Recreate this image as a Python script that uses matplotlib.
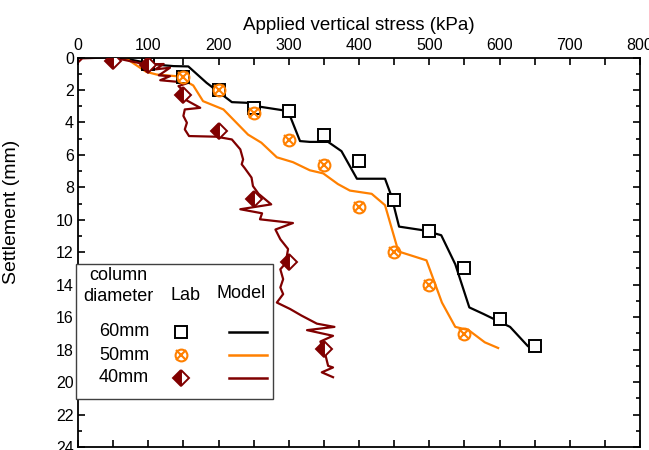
import numpy as np
import matplotlib
matplotlib.use("Agg")
import matplotlib.pyplot as plt
from matplotlib.patches import Rectangle
from matplotlib.ticker import MultipleLocator

plt.rcParams["font.family"] = ["Liberation Sans", "DejaVu Sans"]

BLACK, ORANGE, DRED = "#000000", "#ff8000", "#800000"

# lab points (stress kPa, settlement mm)
lab60_x = [100, 150, 200, 250, 300, 350, 400, 450, 500, 550, 600, 650]
lab60_y = [0.4, 1.2, 2.0, 3.1, 3.3, 4.8, 6.4, 8.8, 10.7, 13.0, 16.1, 17.8]
lab50_x = [150, 200, 250, 300, 350, 400, 450, 500, 550]
lab50_y = [1.2, 2.0, 3.45, 5.1, 6.6, 9.2, 12.0, 14.0, 17.05]
lab40_x = [50, 100, 150, 200, 250, 300, 350]
lab40_y = [0.2, 0.45, 2.3, 4.55, 8.7, 12.6, 17.95]

# model curves
mod60_x = [60, 100, 122, 136, 157, 183, 219, 240, 254, 299, 316, 330, 356, 375,
           397, 437, 446, 457, 492, 517, 537, 557, 577, 596, 615, 640]
mod60_y = [0, 0.35, 0.48, 0.53, 0.55, 1.56, 2.75, 2.79, 3.0, 3.3, 5.15, 5.2, 5.2,
           5.77, 7.47, 7.47, 8.53, 10.42, 10.65, 10.95, 12.74, 15.4, 15.8, 16.2,
           16.6, 17.77]
mod50_x = [48, 70, 97, 112, 140, 164, 178, 207, 242, 261, 283, 306, 330, 349, 370,
           387, 418, 437, 456, 496, 518, 537, 556, 579, 598]
mod50_y = [0, 0.1, 0.88, 1.05, 1.15, 1.72, 2.69, 3.2, 4.75, 5.25, 6.15, 6.45, 6.95,
           7.14, 7.8, 8.2, 8.4, 9.1, 11.95, 12.5, 15.1, 16.6, 16.8, 17.55, 17.9]
mod40_x = [0, 6, 41, 55, 97, 122, 110, 131, 115, 131, 117, 157, 143, 150, 148, 155,
           174, 152, 150, 155, 152, 158, 197, 219, 231, 235, 233, 237, 242, 247,
           249, 257, 275, 231, 262, 259, 306, 281, 288, 299, 297, 297, 288, 292,
           288, 292, 283, 302, 318, 340, 365, 326, 363, 345, 352, 356, 363, 347,
           363]
mod40_y = [0.3, 0.05, 0, 0.05, 0.43, 0.4, 0.73, 0.63, 1.1, 1.15, 1.4, 1.56, 1.76,
           2.07, 2.3, 2.65, 3.1, 3.2, 3.6, 4.02, 4.43, 4.84, 4.88, 5.05, 5.66, 6.28,
           6.58, 6.8, 7.1, 7.4, 7.92, 8.4, 9.05, 9.35, 9.6, 9.97, 10.2, 10.6, 11.2,
           11.8, 12.3, 12.6, 13.05, 13.66, 14.17, 14.58, 15.1, 15.5, 15.9, 16.4,
           16.6, 16.8, 17.15, 17.5, 18.3, 19.0, 19.1, 19.4, 19.7]

rows = ["60mm", "50mm", "40mm"]

fig = plt.figure(figsize=(6.49, 4.5), dpi=100)
ax = fig.add_axes([0.1202, 0.0067, 0.866, 0.8655])

ax.plot(mod60_x, mod60_y, color=BLACK, lw=1.6, zorder=2)
ax.plot(mod50_x, mod50_y, color=ORANGE, lw=1.6, zorder=2)
ax.plot(mod40_x, mod40_y, color=DRED, lw=1.6, zorder=2)

sq = dict(marker="s", ms=8.5, mfc="white", mec=BLACK, mew=1.4, ls="none")
ox1 = dict(marker="o", ms=8.5, mfc="none", mec=ORANGE, mew=1.5, ls="none")
ox2 = dict(marker="x", ms=7, mec=ORANGE, mew=1.5, ls="none")
dm = dict(marker="D", ms=8.5, mfc=DRED, mfcalt="white", fillstyle="left",
          mec=DRED, mew=1.4, ls="none")

ax.plot(lab60_x, lab60_y, zorder=3, **sq)
ax.plot(lab50_x, lab50_y, zorder=4, **ox1)
ax.plot(lab50_x, lab50_y, zorder=4, **ox2)
ax.plot(lab40_x, lab40_y, zorder=5, **dm)

ax.set_xlim(0, 800)
ax.set_ylim(24, 0)
ax.xaxis.tick_top()
ax.xaxis.set_label_position("top")
ax.set_xlabel("Applied vertical stress (kPa)", fontsize=13.5, labelpad=6)
ax.set_ylabel("Settlement (mm)", fontsize=14)
ax.yaxis.set_label_coords(-0.103, 0.603)
ax.xaxis.set_major_locator(MultipleLocator(100))
ax.xaxis.set_minor_locator(MultipleLocator(50))
ax.yaxis.set_major_locator(MultipleLocator(2))
ax.yaxis.set_minor_locator(MultipleLocator(1))
ax.tick_params(which="both", direction="in", top=True, bottom=True, left=True,
               right=True, labelsize=11.5, width=1.2, pad=3)
ax.tick_params(axis="x", which="both", length=5)
ax.tick_params(axis="y", which="major", length=5)
ax.tick_params(axis="y", which="minor", length=3)
for s in ax.spines.values():
    s.set_linewidth(1.3)

# hand-made legend table
tr = ax.transAxes
ax.add_patch(Rectangle((-0.003, 0.1225), 0.3505, 0.3475, transform=tr,
                       facecolor="white", edgecolor="#404040", lw=1.0, zorder=6,
                       clip_on=False))
ax.text(0.071, 0.4134, "column\ndiameter", transform=tr, ha="center", va="center",
        fontsize=13, linespacing=1.25, zorder=7)
ax.text(0.192, 0.39, "Lab", transform=tr, ha="center", va="center", fontsize=13,
        zorder=7)
ax.text(0.290, 0.395, "Model", transform=tr, ha="center", va="center",
        fontsize=13, zorder=7)
row_y = [0.296, 0.236, 0.178]
for lab, yy in zip(rows, row_y):
    ax.text(0.082, yy, lab, transform=tr, ha="center", va="center", fontsize=13,
            zorder=7)
ax.plot([0.183], [row_y[0]], transform=tr, zorder=7, clip_on=False, **sq)
ax.plot([0.183], [row_y[1]], transform=tr, zorder=7, clip_on=False, **ox1)
ax.plot([0.183], [row_y[1]], transform=tr, zorder=7, clip_on=False, **ox2)
ax.plot([0.183], [row_y[2]], transform=tr, zorder=7, clip_on=False, **dm)
for c, yy in zip([BLACK, ORANGE, DRED], row_y):
    ax.plot([0.269, 0.337], [yy, yy], transform=tr, color=c, lw=1.8, zorder=7)

fig.savefig("out.png", dpi=100)
